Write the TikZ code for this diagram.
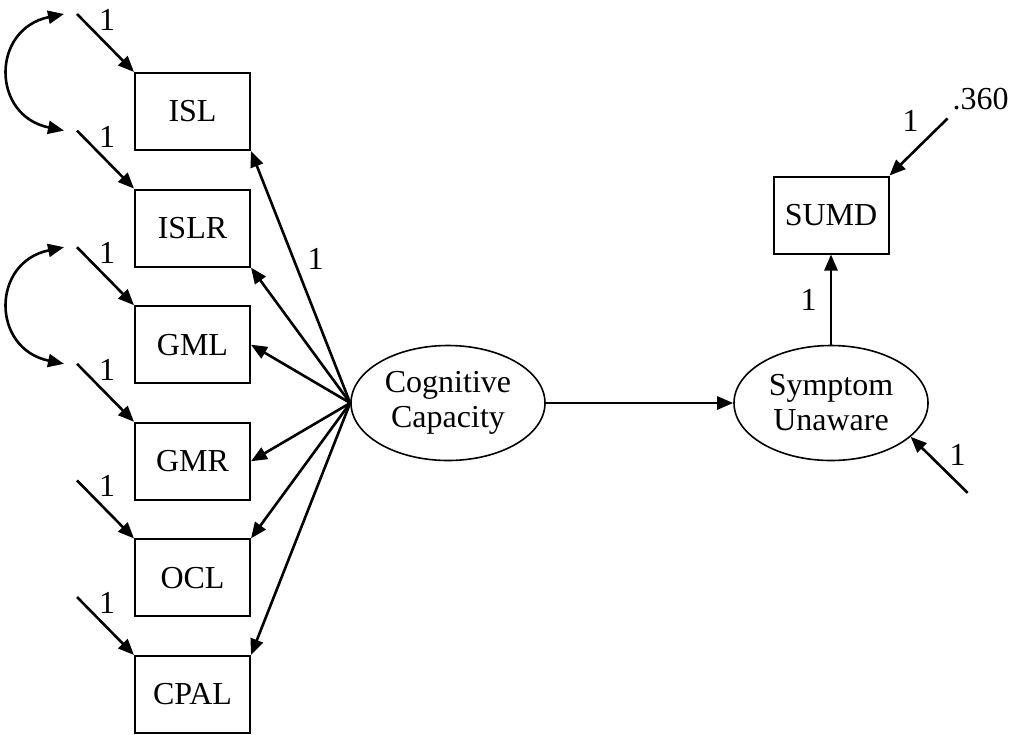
\documentclass[tikz,border=0pt]{standalone}
\usepackage{fontspec}
\setmainfont{Liberation Serif}
\usetikzlibrary{shapes.geometric, arrows.meta, positioning, calc}
\tikzset{
  obs/.style={rectangle, draw, line width=1pt,
    minimum width=57.5pt, minimum height=38.5pt, inner sep=0pt},
  lat/.style={ellipse, draw, line width=0.8pt, align=center,
    minimum width=97pt, minimum height=57.5pt, inner sep=0pt},
  arrow/.style={-{Triangle[length=8pt, width=6.5pt]}, line width=1.3pt},
  cov/.style={{Triangle[length=8pt, width=6.5pt]}-{Triangle[length=8pt, width=6.5pt]}, line width=1.3pt},
  lbl/.style={inner sep=0pt}
}
\begin{document}
\begin{tikzpicture}[x=0.5pt, y=-0.5pt, font=\fontsize{16}{17.5}\selectfont]
  \useasboundingbox (0,0) rectangle (1015,734);

  % Observed indicators
  \foreach \n/\lab [count=\i] in {isl/ISL, islr/ISLR, gml/GML, gmr/GMR, ocl/OCL, cpal/CPAL}
    \node[obs] (\n) at (192.5, {111.5+116.6*(\i-1)}) {\lab};

  % Latent variables and outcome
  \node[lat] (cog) at (448,403) {Cognitive\\Capacity};
  \node[lat] (sym) at (831,403) {Symptom\\Unaware};
  \node[obs] (sumd) at (831,215) {SUMD};

  % Error terms of the indicators
  \foreach \n in {isl, islr, gml, gmr, ocl, cpal} {
    \coordinate (\n-e) at ($(\n.north west)+(-57,-58)$);
    \coordinate (\n-c) at ($(\n-e)+(-13,0)$);
    \draw[arrow] (\n-e) -- (\n.north west);
    \node[lbl] (\n-l) at ($(\n-e)+(30,6)$) {1};
  }

  % Error covariances
  \draw[cov] (isl-c) .. controls +(-73,15) and +(-73,-15) .. (islr-c);
  \draw[cov] (gml-c) .. controls +(-73,15) and +(-73,-15) .. (gmr-c);

  % Factor loadings
  \draw[arrow] (cog.west) -- (isl.south east)
    node[lbl, pos=0.573, right=6.5pt] (l-isl) {1};
  \foreach \t in {islr.south east, gml.east, gmr.east, ocl.north east, cpal.north east}
    \draw[arrow] (cog.west) -- (\t);

  % Structural paths
  \draw[arrow] (cog) -- (sym);
  \draw[arrow] (sym) -- (sumd) node[lbl, midway, left=6.5pt] (l-sumd) {1};

  % Residuals
  \coordinate (sumd-e) at ($(sumd.north east)+(58,-57)$);
  \draw[arrow] (sumd-e) -- (sumd.north east);
  \node[lbl] (l-sumd-e) at ($(sumd-e)+(-37,2)$) {1};
  \node[lbl] (v-sumd) at ($(sumd-e)+(33,-19)$) {.360};
  \coordinate (sym-e) at ($(sym.-23)+(57,56)$);
  \draw[arrow] (sym-e) -- (sym.-23);
  \node[lbl] (l-sym-e) at ($(sym-e)+(-10,-38)$) {1};
\end{tikzpicture}
\end{document}
